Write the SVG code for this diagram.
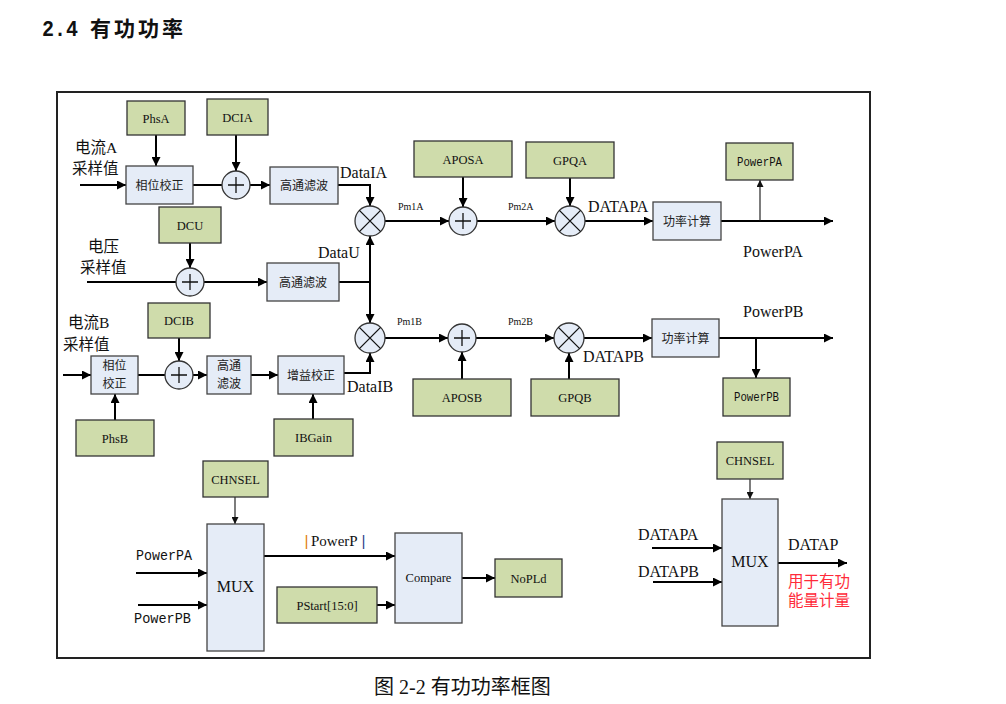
<svg xmlns="http://www.w3.org/2000/svg" width="1006" height="704" viewBox="0 0 1006 704">
<defs>
<style>
.g{fill:#cfdcab;stroke:#333;stroke-width:1.3}
.b{fill:#e5ecf7;stroke:#444;stroke-width:1.3}
.c{fill:#e5ecf7;stroke:#333;stroke-width:1.3}
.sym{stroke:#111;stroke-width:1.3;fill:none}
.w{stroke:#000;stroke-width:2;fill:none}
.thin{stroke:#111;stroke-width:1.1;fill:none}
text{font-family:"Liberation Serif","Noto Sans CJK SC",serif;fill:#111}
.lb{font-size:12.5px;text-anchor:middle}
.cn{font-family:"Noto Sans CJK SC",sans-serif;font-size:12px;text-anchor:middle;fill:#222}
.big{font-size:16px}
.cnb{font-size:15.5px}
.sm{font-size:10px}
.mono{font-family:"Liberation Mono",monospace}
</style>
<marker id="ah" viewBox="0 0 10 10" refX="10" refY="5" markerWidth="11" markerHeight="9" markerUnits="userSpaceOnUse" orient="auto"><path d="M0,0L10,5L0,10z" fill="#000"/></marker>
<marker id="as" viewBox="0 0 10 10" refX="10" refY="5" markerWidth="7" markerHeight="7" markerUnits="userSpaceOnUse" orient="auto"><path d="M0,0L10,5L0,10z" fill="#111"/></marker>
</defs>
<rect width="1006" height="704" fill="#fff"/>
<text x="42" y="36" textLength="36" lengthAdjust="spacingAndGlyphs" style="font-family:'Liberation Mono',monospace;font-weight:bold;font-size:22px">2.4</text>
<text x="90" y="36" style="font-family:'Noto Sans CJK SC',sans-serif;font-weight:bold;font-size:21px;letter-spacing:3px">有功功率</text>
<rect x="57" y="92" width="813" height="566" fill="none" stroke="#222" stroke-width="2"/>
<g id="connectors">
<path class="w" d="M80,185H126" marker-end="url(#ah)"/>
<path class="w" d="M156,135V166" marker-end="url(#ah)"/>
<path class="w" d="M193,185H222"/>
<path class="w" d="M236,135V171" marker-end="url(#ah)"/>
<path class="w" d="M250,185H270" marker-end="url(#ah)"/>
<path class="w" d="M338,185H370V206" marker-end="url(#ah)"/>
<path class="w" d="M463,177V207" marker-end="url(#ah)"/>
<path class="w" d="M570,178V206" marker-end="url(#ah)"/>
<path class="w" d="M385,221H449" marker-end="url(#ah)"/>
<path class="w" d="M477,221H555" marker-end="url(#ah)"/>
<path class="w" d="M585,221H653" marker-end="url(#ah)"/>
<path class="w" d="M721,221H833" marker-end="url(#ah)"/>
<path class="thin" d="M760,221V180" marker-end="url(#as)"/>
<path class="w" d="M190,243V268" marker-end="url(#ah)"/>
<path class="w" d="M87,282H176"/>
<path class="w" d="M204,282H267" marker-end="url(#ah)"/>
<path class="w" d="M339,282H370"/>
<path class="w" d="M370,282V236" marker-end="url(#ah)"/>
<path class="w" d="M370,282V323" marker-end="url(#ah)"/>
<path class="w" d="M63,375H91" marker-end="url(#ah)"/>
<path class="w" d="M138,375H165"/>
<path class="w" d="M179,338V361" marker-end="url(#ah)"/>
<path class="w" d="M193,375H207" marker-end="url(#ah)"/>
<path class="w" d="M251,375H278" marker-end="url(#ah)"/>
<path class="w" d="M344,373H370V353" marker-end="url(#ah)"/>
<path class="w" d="M115,420V394" marker-end="url(#ah)"/>
<path class="w" d="M313,419V394" marker-end="url(#ah)"/>
<path class="w" d="M385,338H448" marker-end="url(#ah)"/>
<path class="w" d="M476,338H554" marker-end="url(#ah)"/>
<path class="w" d="M584,338H652" marker-end="url(#ah)"/>
<path class="w" d="M719,338H833" marker-end="url(#ah)"/>
<path class="w" d="M756,338V378" marker-end="url(#ah)"/>
<path class="w" d="M462,379V352" marker-end="url(#ah)"/>
<path class="w" d="M569,379V353" marker-end="url(#ah)"/>
<path class="thin" d="M235,497V524" marker-end="url(#as)"/>
<path class="w" d="M136,573H207" marker-end="url(#ah)"/>
<path class="w" d="M138,605H207" marker-end="url(#ah)"/>
<path class="w" d="M264,556H395" marker-end="url(#ah)"/>
<path class="w" d="M377,605H395" marker-end="url(#ah)"/>
<path class="w" d="M462,578H495" marker-end="url(#ah)"/>
<path class="thin" d="M750,479V499" marker-end="url(#as)"/>
<path class="w" d="M652,548H722" marker-end="url(#ah)"/>
<path class="w" d="M653,582H722" marker-end="url(#ah)"/>
<path class="w" d="M778,563H847" marker-end="url(#ah)"/>
</g>
<g id="n-phsa"><rect class="g" x="127" y="101" width="58" height="34"/><text class="lb" x="156" y="122.5">PhsA</text></g>
<g id="n-dcia"><rect class="g" x="207" y="99" width="61" height="36"/><text class="lb" x="237.5" y="121.5">DCIA</text></g>
<g id="n-phase-a"><rect class="b" x="126" y="166" width="67" height="38"/><text class="cn" x="159.5" y="189.5">相位校正</text></g>
<g id="n-add-a1"><circle class="c" cx="236" cy="185" r="14"/><path class="sym" d="M228,185H244M236,177V193"/></g>
<g id="n-hpf-a"><rect class="b" x="270" y="167" width="68" height="37"/><text class="cn" x="304" y="190">高通滤波</text></g>
<g id="n-mul-a1"><circle class="c" cx="370" cy="221" r="15"/><path class="sym" d="M359.4,210.4L380.6,231.6M380.6,210.4L359.4,231.6"/></g>
<g id="n-aposa"><rect class="g" x="414" y="141" width="98" height="36"/><text class="lb" x="463" y="163.5">APOSA</text></g>
<g id="n-add-a2"><circle class="c" cx="463" cy="221" r="14"/><path class="sym" d="M455,221H471M463,213V229"/></g>
<g id="n-gpqa"><rect class="g" x="526" y="142" width="88" height="36"/><text class="lb" x="570" y="164.5">GPQA</text></g>
<g id="n-mul-a3"><circle class="c" cx="570" cy="221" r="15"/><path class="sym" d="M559.4,210.4L580.6,231.6M580.6,210.4L559.4,231.6"/></g>
<g id="n-pwr-a"><rect class="b" x="653" y="202" width="68" height="38"/><text class="cn" x="687" y="225.5">功率计算</text></g>
<g id="n-powerpa"><rect class="g" x="726" y="143" width="67" height="37"/><text class="lb mono" x="759.5" y="165.5" font-size="12" textLength="45" lengthAdjust="spacingAndGlyphs">PowerPA</text></g>
<g id="n-dcu"><rect class="g" x="159" y="207" width="62" height="36"/><text class="lb" x="190" y="229.5">DCU</text></g>
<g id="n-add-u"><circle class="c" cx="190" cy="282" r="14"/><path class="sym" d="M182,282H198M190,274V290"/></g>
<g id="n-hpf-u"><rect class="b" x="267" y="263" width="72" height="38"/><text class="cn" x="303" y="286.5">高通滤波</text></g>
<g id="n-mul-b1"><circle class="c" cx="370" cy="338" r="15"/><path class="sym" d="M359.4,327.4L380.6,348.6M380.6,327.4L359.4,348.6"/></g>
<g id="n-add-b2"><circle class="c" cx="462" cy="338" r="14"/><path class="sym" d="M454,338H470M462,330V346"/></g>
<g id="n-mul-b3"><circle class="c" cx="569" cy="338" r="15"/><path class="sym" d="M558.4,327.4L579.6,348.6M579.6,327.4L558.4,348.6"/></g>
<g id="n-pwr-b"><rect class="b" x="652" y="319" width="67" height="38"/><text class="cn" x="685.5" y="342.5">功率计算</text></g>
<g id="n-powerpb"><rect class="g" x="723" y="378" width="67" height="38"/><text class="lb mono" x="756.5" y="401" font-size="12" textLength="45" lengthAdjust="spacingAndGlyphs">PowerPB</text></g>
<g id="n-aposb"><rect class="g" x="413" y="379" width="98" height="37"/><text class="lb" x="462" y="402">APOSB</text></g>
<g id="n-gpqb"><rect class="g" x="531" y="379" width="88" height="37"/><text class="lb" x="575" y="402">GPQB</text></g>
<g id="n-dcib"><rect class="g" x="148" y="303" width="62" height="35"/><text class="lb" x="179" y="325">DCIB</text></g>
<g id="n-phase-b"><rect class="b" x="91" y="356" width="47" height="38"/><text class="cn" x="114.5" y="370">相位</text><text class="cn" x="114.5" y="388">校正</text></g>
<g id="n-add-b1"><circle class="c" cx="179" cy="375" r="14"/><path class="sym" d="M171,375H187M179,367V383"/></g>
<g id="n-hpf-b"><rect class="b" x="207" y="356" width="44" height="38"/><text class="cn" x="229" y="370">高通</text><text class="cn" x="229" y="388">滤波</text></g>
<g id="n-gain"><rect class="b" x="278" y="356" width="66" height="38"/><text class="cn" x="311" y="379.5">增益校正</text></g>
<g id="n-phsb"><rect class="g" x="76" y="420" width="78" height="36"/><text class="lb" x="115" y="442.5">PhsB</text></g>
<g id="n-ibgain"><rect class="g" x="274" y="419" width="79" height="37"/><text class="lb" x="313.5" y="442">IBGain</text></g>
<g id="n-chnsel1"><rect class="g" x="203" y="461" width="65" height="36"/><text class="lb" x="235.5" y="483.5">CHNSEL</text></g>
<g id="n-mux1"><rect class="b" x="207" y="524" width="57" height="127"/><text class="lb big" x="235.5" y="592">MUX</text></g>
<g id="n-pstart"><rect class="g" x="277" y="587" width="100" height="36"/><text class="lb" x="327" y="609.5">PStart[15:0]</text></g>
<g id="n-compare"><rect class="b" x="395" y="533" width="67" height="90"/><text class="lb" x="428.5" y="582">Compare</text></g>
<g id="n-nopld"><rect class="g" x="495" y="559" width="67" height="38"/><text class="lb" x="528.5" y="582.5">NoPLd</text></g>
<g id="n-chnsel2"><rect class="g" x="717" y="442" width="66" height="37"/><text class="lb" x="750" y="465">CHNSEL</text></g>
<g id="n-mux2"><rect class="b" x="722" y="499" width="56" height="127"/><text class="lb big" x="750" y="567">MUX</text></g>
<g id="labels">
<text class="cnb" x="75" y="153">电流A</text>
<text class="cnb" x="72" y="174">采样值</text>
<text class="cnb" x="88" y="252">电压</text>
<text class="cnb" x="80" y="273">采样值</text>
<text class="cnb" x="68" y="328">电流B</text>
<text class="cnb" x="63" y="350">采样值</text>
<text class="big" x="340" y="178">DataIA</text>
<text class="big" x="318" y="258">DataU</text>
<text class="big" x="347" y="392">DataIB</text>
<text class="sm" x="398" y="210">Pm1A</text>
<text class="sm" x="508" y="210">Pm2A</text>
<text class="sm" x="397" y="325">Pm1B</text>
<text class="sm" x="508" y="325">Pm2B</text>
<text class="big" x="588" y="212">DATAPA</text>
<text class="big" x="583" y="362">DATAPB</text>
<text class="big" x="743" y="257">PowerPA</text>
<text class="big" x="743" y="317">PowerPB</text>
<text class="mono" x="136" y="560" font-size="15" textLength="56" lengthAdjust="spacingAndGlyphs">PowerPA</text>
<text class="mono" x="134" y="623" font-size="15" textLength="57" lengthAdjust="spacingAndGlyphs">PowerPB</text>
<text class="mono" x="302" y="546" font-size="15" style="fill:#e07b00">|</text>
<text x="311" y="546" font-size="15">PowerP</text>
<text class="mono" x="359" y="546" font-size="15" style="fill:#1f3f8a">|</text>
<text class="big" x="638" y="540">DATAPA</text>
<text class="big" x="638" y="577">DATAPB</text>
<text class="big" x="788" y="550">DATAP</text>
<text class="cnb" x="788" y="587" style="fill:#ff2b3a">用于有功</text>
<text class="cnb" x="788" y="606" style="fill:#ff2b3a">能量计量</text>
</g>
<text x="374" y="694" style="font-size:20px">图 2-2 有功功率框图</text>
</svg>
